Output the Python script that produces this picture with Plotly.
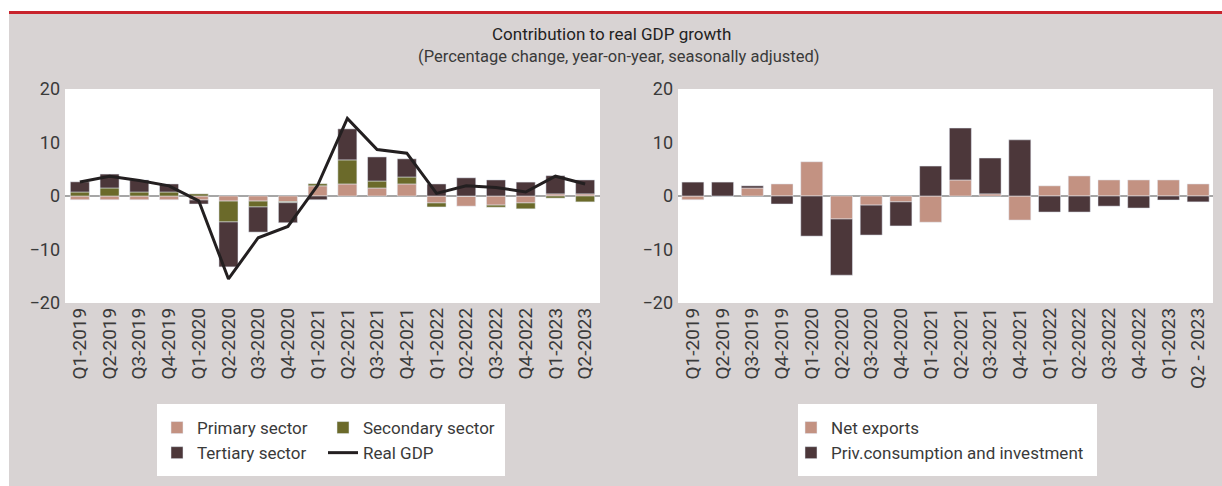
import plotly.graph_objects as go

quarters = ["Q1-2019", "Q2-2019", "Q3-2019", "Q4-2019", "Q1-2020", "Q2-2020", "Q3-2020", "Q4-2020",
            "Q1-2021", "Q2-2021", "Q3-2021", "Q4-2021", "Q1-2022", "Q2-2022", "Q3-2022", "Q4-2022",
            "Q1-2023", "Q2-2023"]
quarters_right = quarters[:-1] + ["Q2 - 2023"]

primary = [-0.7, -0.7, -0.7, -0.7, -0.75, -0.95, -0.95, -1.05, 1.9, 2.25, 1.5, 2.25,
           -1.3, -1.9, -1.7, -1.3, 0.4, 0.4]
secondary = [0.75, 1.5, 0.75, 0.75, 0.4, -3.9, -1.1, -0.2, 0.4, 4.5, 1.3, 1.3,
             -0.75, 0.0, -0.4, -1.1, -0.4, -1.1]
tertiary = [1.9, 2.6, 2.25, 1.5, -0.75, -8.4, -4.7, -3.75, -0.7, 5.8, 4.5, 3.4,
            2.25, 3.4, 3.0, 2.6, 3.4, 2.6]
real_gdp = [2.6, 3.7, 2.9, 1.9, -0.9, -15.5, -7.8, -5.7, 2.0, 14.5, 8.7, 8.0,
            0.5, 1.9, 1.6, 0.75, 3.7, 2.25]

net_exports = [-0.7, 0.0, 1.5, 2.25, 6.4, -4.3, -1.7, -1.1, -4.9, 3.0, 0.4, -4.5,
               1.9, 3.75, 3.0, 3.0, 3.0, 2.25]
priv_cons_inv = [2.6, 2.6, 0.4, -1.5, -7.5, -10.5, -5.6, -4.5, 5.6, 9.7, 6.7, 10.5,
                 -3.0, -3.0, -1.9, -2.25, -0.75, -1.1]

C_PRIM = "#c39282"
C_SEC = "#6b6a2a"
C_TER = "#4c373a"
C_LINE = "#231f20"
BG = "#d8d3d3"
FONT = "Roboto, sans-serif"
TXT = "#3a3a3a"

W, H = 1222, 486

fig = go.Figure()
fig.add_trace(go.Bar(x=quarters, y=primary, name="Primary sector", marker_color=C_PRIM,
                     xaxis="x", yaxis="y", legend="legend"))
fig.add_trace(go.Bar(x=quarters, y=secondary, name="Secondary sector", marker_color=C_SEC,
                     xaxis="x", yaxis="y", legend="legend2"))
fig.add_trace(go.Bar(x=quarters, y=tertiary, name="Tertiary sector", marker_color=C_TER,
                     xaxis="x", yaxis="y", legend="legend"))
fig.add_trace(go.Scatter(x=quarters, y=real_gdp, name="Real GDP", mode="lines",
                         line=dict(color=C_LINE, width=3), xaxis="x", yaxis="y", legend="legend2"))
fig.add_trace(go.Bar(x=quarters_right, y=net_exports, name="Net exports", marker_color=C_PRIM,
                     xaxis="x2", yaxis="y2", legend="legend3"))
fig.add_trace(go.Bar(x=quarters_right, y=priv_cons_inv, name="Priv.consumption and investment",
                     marker_color=C_TER, xaxis="x2", yaxis="y2", legend="legend3"))

ydom = [(H - 303) / H, (H - 89) / H]
yax = dict(showgrid=False, showline=False, ticks="", automargin=False, range=[-20, 20], dtick=10,
           zeroline=True, zerolinecolor="#a6a6a6", zerolinewidth=1.5, ticklabelstandoff=4,
           tickfont=dict(family=FONT, size=18, color=TXT))
xax = dict(showgrid=False, showline=False, ticks="", automargin=False, tickangle=-90,
           tickfont=dict(family=FONT, size=19, color=TXT))
leg = dict(xanchor="left", y=(H - 410) / H, yanchor="top", bgcolor="rgba(0,0,0,0)",
           font=dict(family=FONT, size=17, color=TXT), traceorder="normal")
fig.update_layout(
    width=W, height=H,
    margin=dict(l=0, r=0, t=0, b=0, autoexpand=False),
    paper_bgcolor=BG, plot_bgcolor="white",
    barmode="relative", bargap=0.36,
    font=dict(family=FONT, color=TXT),
    xaxis=dict(domain=[65 / W, 600 / W], anchor="y", **xax),
    yaxis=dict(domain=ydom, anchor="x", **yax),
    xaxis2=dict(domain=[678 / W, 1213 / W], anchor="y2", **xax),
    yaxis2=dict(domain=ydom, anchor="x2", **yax),
    legend=dict(x=157 / W, **leg),
    legend2=dict(x=323 / W, **leg),
    legend3=dict(x=791 / W, **leg),
    shapes=[
        dict(type="rect", xref="paper", yref="paper", x0=0, x1=1, y0=(H - 11) / H, y1=1,
             fillcolor="white", line=dict(width=0), layer="below"),
        dict(type="rect", xref="paper", yref="paper", x0=0, x1=9 / W, y0=0, y1=1,
             fillcolor="white", line=dict(width=0), layer="below"),
        dict(type="rect", xref="paper", yref="paper", x0=9 / W, x1=1, y0=(H - 14) / H, y1=(H - 11) / H,
             fillcolor="#c8232c", line=dict(width=0), layer="below"),
        dict(type="rect", xref="paper", yref="paper", x0=157 / W, x1=505 / W, y0=(H - 476) / H,
             y1=(H - 404) / H, fillcolor="white", line=dict(width=0), layer="below"),
        dict(type="rect", xref="paper", yref="paper", x0=798 / W, x1=1097 / W, y0=(H - 476) / H,
             y1=(H - 404) / H, fillcolor="white", line=dict(width=0), layer="below"),
    ],
    annotations=[
        dict(text="Contribution to real GDP growth", x=611 / W, y=(H - 33.5) / H, xref="paper", yref="paper",
             showarrow=False, xanchor="center", yanchor="middle",
             font=dict(family=FONT, size=17, color="#222222")),
        dict(text="(Percentage change, year-on-year, seasonally adjusted)", x=619 / W, y=(H - 57) / H,
             xref="paper", yref="paper", showarrow=False, xanchor="center", yanchor="middle",
             font=dict(family=FONT, size=16.5, color=TXT)),
    ],
)
fig.update_traces(selector=dict(xaxis="x2"), width=0.74)

fig.write_html("out.html", config={"displayModeBar": False},
               post_script="document.body.style.margin='0';document.body.style.overflow='hidden';")
